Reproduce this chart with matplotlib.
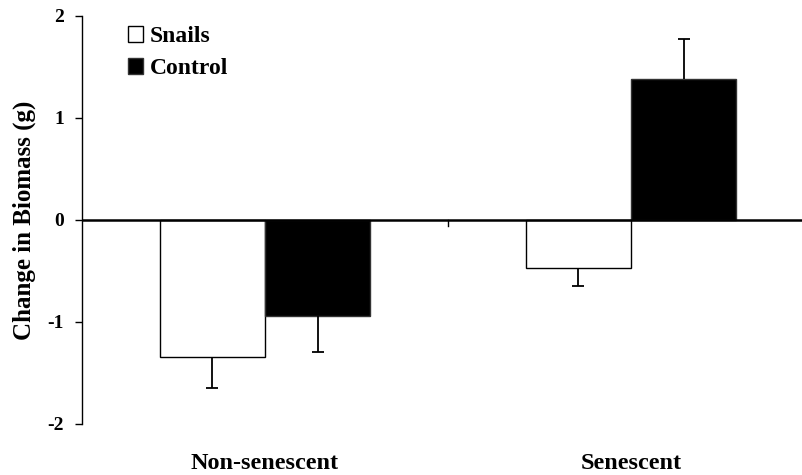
import matplotlib
matplotlib.use("Agg")
import matplotlib.pyplot as plt
import numpy as np

categories = ["Non-senescent", "Senescent"]
series_names = ["Snails", "Control"]
snails = [-1.34, -0.47]
snails_err = [0.31, 0.18]
control = [-0.94, 1.38]
control_err = [0.35, 0.39]
yticks = [-2, -1, 0, 1, 2]

plt.rcParams['font.family'] = ['Liberation Serif', 'DejaVu Serif']
plt.rcParams['font.weight'] = 'bold'

fig = plt.figure(figsize=(8.03, 4.75), dpi=100)
ax = fig.add_axes([82/803, 1-424/475, 1-82/803, 408/475])

x = np.arange(len(categories))
w = 0.288

ax.bar(x - w/2, snails, w, color='white', edgecolor='black', linewidth=1.0,
       label=series_names[0], zorder=2)
ax.bar(x + w/2, control, w, color='black', edgecolor='#333333', linewidth=1.0,
       label=series_names[1], zorder=2)

# one-sided error bars (away from zero)
for xs, vals, errs in [(x - w/2, snails, snails_err), (x + w/2, control, control_err)]:
    ends = [v - e if v < 0 else v + e for v, e in zip(vals, errs)]
    ax.vlines(xs, vals, ends, color='black', linewidth=1.3, zorder=3)
    ax.plot(xs, ends, linestyle='none', marker='_', markersize=8,
            markeredgewidth=1.3, color='black', zorder=3)

ax.axhline(0, color='black', linewidth=1.8, zorder=4)
ax.axvline(0.5, ymin=0.485, ymax=0.5, color='black', linewidth=1.0)

ax.set_xlim(-0.5, 1.47)
ax.set_ylim(-2, 2)
ax.set_yticks(yticks)
ax.set_yticklabels([str(t) for t in yticks], fontsize=14, fontweight='bold')
ax.tick_params(axis='y', direction='out', length=5, width=1, pad=8)
ax.set_xticks(x)
ax.set_xticklabels(categories, fontsize=17.5, fontweight='bold')
ax.tick_params(axis='x', length=0, pad=21)

for s in ['top', 'right', 'bottom']:
    ax.spines[s].set_visible(False)
ax.spines['left'].set_linewidth(1.0)

ax.set_ylabel("Change in Biomass (g)", fontsize=18, fontweight='bold', labelpad=8)

leg = ax.legend(loc='upper left', bbox_to_anchor=(0.064, 0.975), frameon=False,
                fontsize=17, handlelength=0.65, handleheight=0.65,
                handletextpad=0.25, labelspacing=0.45, borderaxespad=0,
                borderpad=0)

fig.savefig("out.png", dpi=100)
